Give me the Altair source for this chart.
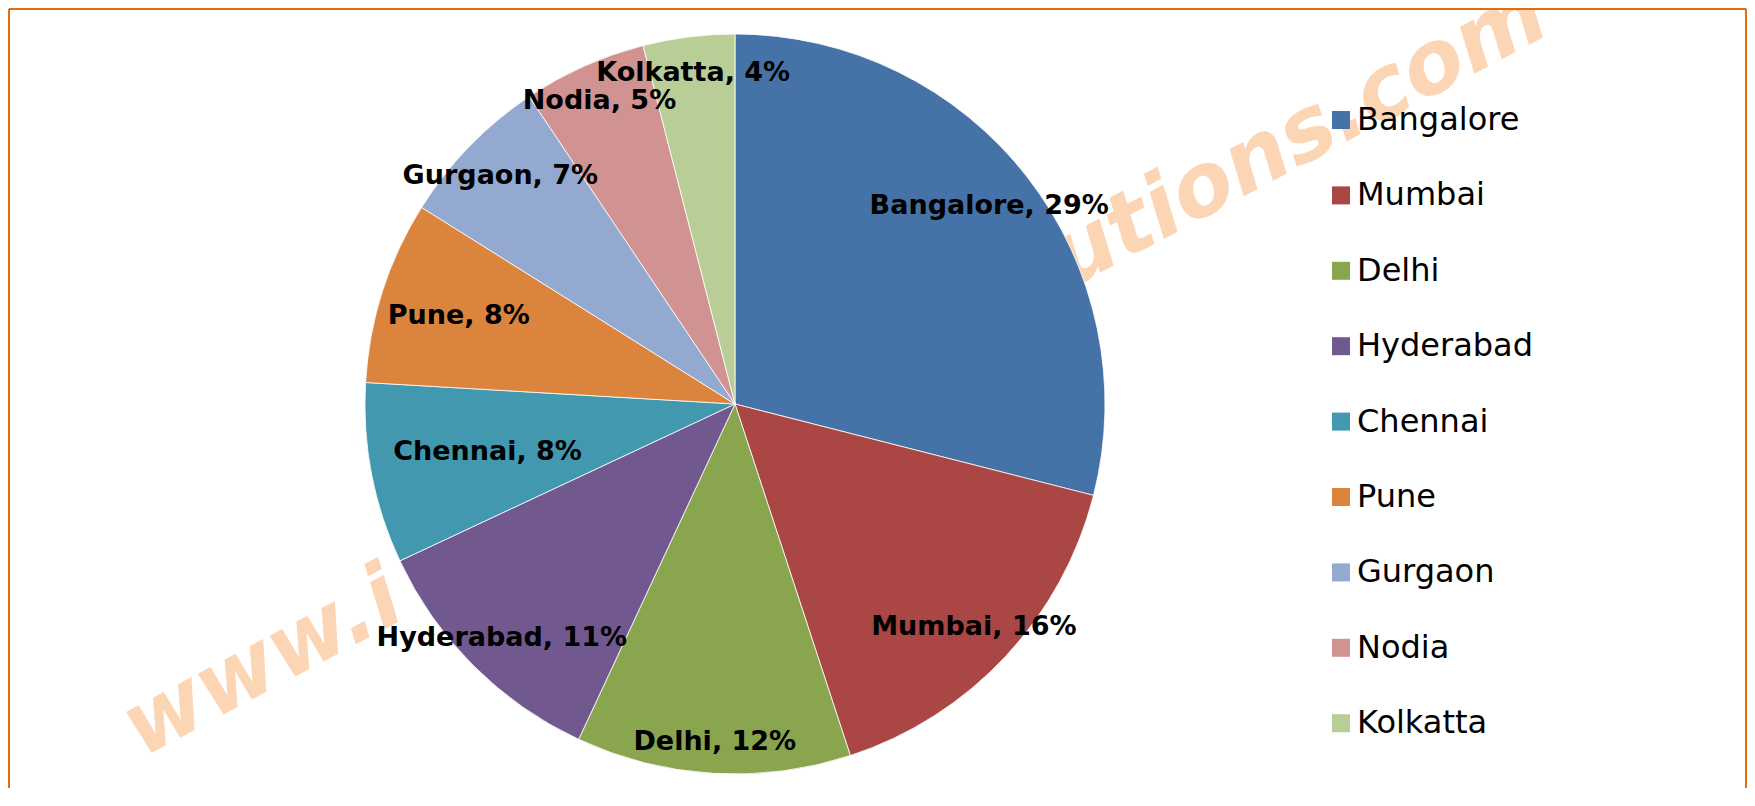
import altair as alt
import pandas as pd

# ---- data ----
cities = ["Bangalore", "Mumbai", "Delhi", "Hyderabad", "Chennai",
          "Pune", "Gurgaon", "Nodia", "Kolkatta"]
shares = [29.0, 16.0, 12.0, 11.1, 7.9, 8.0, 6.7, 5.4, 4.0]
colors = ["#4572A7", "#AA4643", "#89A54E", "#71588F", "#4198AF",
          "#DB843D", "#93A9CF", "#D19392", "#B9CD96"]

# ---- layout (not data): distance of each data label from the pie centre, px ----
label_radius = [322, 327, 339, 330, 252, 290, 327, 332, 334]

total = sum(shares)
df = pd.DataFrame({
    "city": cities,
    "share": shares,
    "idx": list(range(len(cities))),
    "lr": label_radius,
})
df["label"] = [f"{c}, {round(s / total * 100)}%" for c, s in zip(cities, shares)]

W, H = 1739, 780
CX, CY, R = 727, 396, 370
BORDER = "#E46C0A"
WATER = "#FCD5B5"
dummy = pd.DataFrame({"a": [0]})

# watermark (behind the pie)
wm1 = alt.Chart(dummy).mark_text(
    text="www.i", font="DejaVu Sans", fontWeight="bold", fontStyle="italic",
    fontSize=88, color=WATER, align="left", baseline="alphabetic", angle=332,
).encode(x=alt.value(134), y=alt.value(750))
wm2 = alt.Chart(dummy).mark_text(
    text="utions.com", font="DejaVu Sans", fontWeight="bold", fontStyle="italic",
    fontSize=88, color=WATER, align="right", baseline="alphabetic", angle=332,
).encode(x=alt.value(1545), y=alt.value(24))

arcs = alt.Chart(df).mark_arc(radius=R, stroke="white", strokeWidth=0.8).encode(
    theta=alt.Theta("share:Q", stack=True),
    order=alt.Order("idx:Q", sort="ascending"),
    x=alt.value(CX), y=alt.value(CY),
    color=alt.Color(
        "city:N",
        scale=alt.Scale(domain=cities, range=colors),
        sort=cities,
        title=None,
        legend=alt.Legend(
            orient="none", legendX=1317, legendY=96,
            symbolType="square", symbolSize=324, symbolStrokeWidth=0,
            symbolOpacity=1, labelFont="DejaVu Sans", labelFontSize=32,
            labelColor="black", labelOffset=0, rowPadding=43.4,
            labelLimit=400, padding=0,
        ),
    ),
)

# data labels: placed at each slice's middle angle
labels = alt.Chart(df).transform_window(
    cum="sum(share)", sort=[alt.SortField("idx", order="ascending")],
).transform_joinaggregate(
    tot="sum(share)",
).transform_calculate(
    ang="2*PI*(datum.cum - datum.share/2)/datum.tot",
).transform_calculate(
    lx=f"{CX} + datum.lr*sin(datum.ang)",
    ly=f"{CY} - datum.lr*cos(datum.ang)",
).mark_text(
    font="DejaVu Sans", fontWeight="bold", fontSize=27, color="black",
    align="center", baseline="middle",
).encode(
    x=alt.X("lx:Q", scale=None, axis=None),
    y=alt.Y("ly:Q", scale=None, axis=None),
    text="label:N",
)

top = alt.Chart(dummy).mark_rule(color=BORDER, strokeWidth=2).encode(
    x=alt.value(1), x2=alt.value(W - 1), y=alt.value(1))
left = alt.Chart(dummy).mark_rule(color=BORDER, strokeWidth=2).encode(
    x=alt.value(1), y=alt.value(1), y2=alt.value(H))
right = alt.Chart(dummy).mark_rule(color=BORDER, strokeWidth=2).encode(
    x=alt.value(W - 1), y=alt.value(1), y2=alt.value(H))

chart = alt.layer(wm1, wm2, arcs, labels, top, left, right).properties(
    width=W, height=H, padding=0,
    autosize=alt.AutoSizeParams(type="none"),
).configure_view(strokeWidth=0).configure(font="DejaVu Sans")

chart.save("out.html", embed_options={"renderer": "svg", "actions": False})
